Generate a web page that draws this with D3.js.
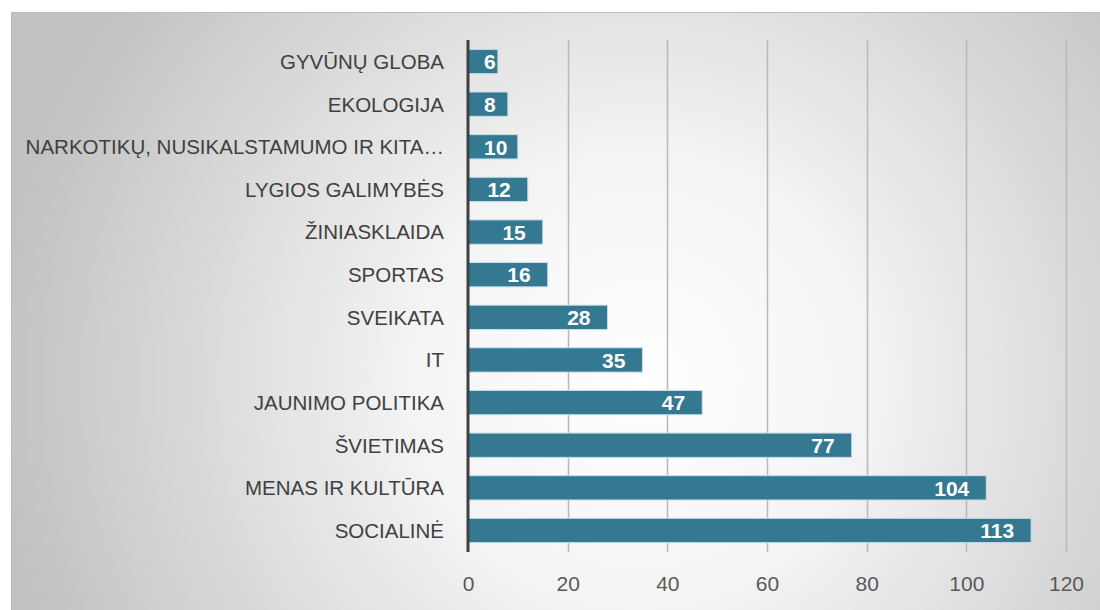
<!DOCTYPE html>
<html>
<head>
<meta charset="utf-8">
<script src="https://cdn.jsdelivr.net/npm/d3@7"></script>
<style>
  body { margin: 0; background: #fff; }
  svg { display: block; }
</style>
</head>
<body>
<svg id="chart" width="1100" height="610"></svg>
<script>
var categories = ["GYVŪNŲ GLOBA", "EKOLOGIJA", "NARKOTIKŲ, NUSIKALSTAMUMO IR KITA…",
  "LYGIOS GALIMYBĖS", "ŽINIASKLAIDA", "SPORTAS", "SVEIKATA", "IT",
  "JAUNIMO POLITIKA", "ŠVIETIMAS ", "MENAS IR KULTŪRA", "SOCIALINĖ"];
var values = [6, 8, 10, 12, 15, 16, 28, 35, 47, 77, 104, 113];
var xTicks = [0, 20, 40, 60, 80, 100, 120];

var data = categories.map(function(c, i) { return { cat: c, val: values[i] }; });

var svg = d3.select("#chart"),
  margin = { top: 40, right: 34, bottom: 58, left: 468 },
  width = +svg.attr("width") - margin.left - margin.right,
  height = +svg.attr("height") - margin.top - margin.bottom;

// background panel with soft radial shading
var defs = svg.append("defs");
var grad = defs.append("radialGradient")
  .attr("id", "bg")
  .attr("gradientUnits", "userSpaceOnUse")
  .attr("cx", 640).attr("cy", 380).attr("r", 640);
grad.append("stop").attr("offset", "0%").attr("stop-color", "#ffffff");
grad.append("stop").attr("offset", "35%").attr("stop-color", "#f4f4f4");
grad.append("stop").attr("offset", "100%").attr("stop-color", "#c2c2c2");

svg.append("rect")
  .attr("x", 11).attr("y", 12)
  .attr("width", 1089).attr("height", 598)
  .attr("fill", "url(#bg)");
svg.append("line")
  .attr("x1", 11).attr("x2", 1100).attr("y1", 12.5).attr("y2", 12.5)
  .attr("stroke", "#bdbdbd").attr("stroke-width", 1);
svg.append("line")
  .attr("x1", 11.5).attr("x2", 11.5).attr("y1", 12).attr("y2", 610)
  .attr("stroke", "#bdbdbd").attr("stroke-width", 1);

var g = svg.append("g").attr("transform", "translate(" + margin.left + "," + margin.top + ")");

var x = d3.scaleLinear().domain([0, 120]).range([0, width]);
var y = d3.scaleBand().domain(categories).range([0, height]).paddingInner(0.43).paddingOuter(0.22);

// gridlines
g.append("g")
  .attr("class", "grid")
  .selectAll("line")
  .data(xTicks.slice(1))
  .enter().append("line")
  .attr("x1", function(d) { return Math.round(x(d)) + 0.5; })
  .attr("x2", function(d) { return Math.round(x(d)) + 0.5; })
  .attr("y1", 0).attr("y2", height)
  .attr("stroke", "#b8b8b8").attr("stroke-width", 1.5);

// bars
g.selectAll(".bar")
  .data(data)
  .enter().append("rect")
  .attr("class", "bar")
  .attr("x", x(0))
  .attr("y", function(d) { return y(d.cat); })
  .attr("width", function(d) { return x(d.val) - x(0); })
  .attr("height", y.bandwidth())
  .attr("fill", "#347891")
  .attr("stroke", "#c6dee7")
  .attr("stroke-width", 1);

// value labels inside end
var vl = g.selectAll(".val")
  .data(data)
  .enter().append("text")
  .attr("class", "val")
  .attr("y", function(d) { return y(d.cat) + y.bandwidth() / 2; })
  .attr("dy", "0.37em")
  .attr("font-family", "'Liberation Sans', Arial, sans-serif")
  .attr("font-weight", "bold")
  .attr("font-size", 21)
  .attr("fill", "#ffffff")
  .text(function(d) { return d.val; });
vl.attr("x", function(d) {
  var w = this.getComputedTextLength();
  return Math.max(x(0) + 16, x(d.val) - 17 - w);
});

// category labels
g.selectAll(".cat")
  .data(data)
  .enter().append("text")
  .attr("class", "cat")
  .attr("x", -24)
  .attr("y", function(d) { return y(d.cat) + y.bandwidth() / 2; })
  .attr("dy", "0.36em")
  .attr("text-anchor", "end")
  .attr("font-family", "'Liberation Sans', Arial, sans-serif")
  .attr("font-size", 20.5)
  .attr("fill", "#404040")
  .text(function(d) { return d.cat; });

// x axis tick labels
var xAxis = g.append("g")
  .attr("transform", "translate(0," + height + ")")
  .call(d3.axisBottom(x).tickValues(xTicks).tickSize(0).tickPadding(24));
xAxis.select(".domain").remove();
xAxis.selectAll("text")
  .attr("font-family", "'Liberation Sans', Arial, sans-serif")
  .attr("font-size", 21)
  .attr("fill", "#595959");

// category axis line
g.append("line")
  .attr("x1", 0).attr("x2", 0)
  .attr("y1", 0).attr("y2", height)
  .attr("stroke", "#404040").attr("stroke-width", 3);
</script>
</body>
</html>
